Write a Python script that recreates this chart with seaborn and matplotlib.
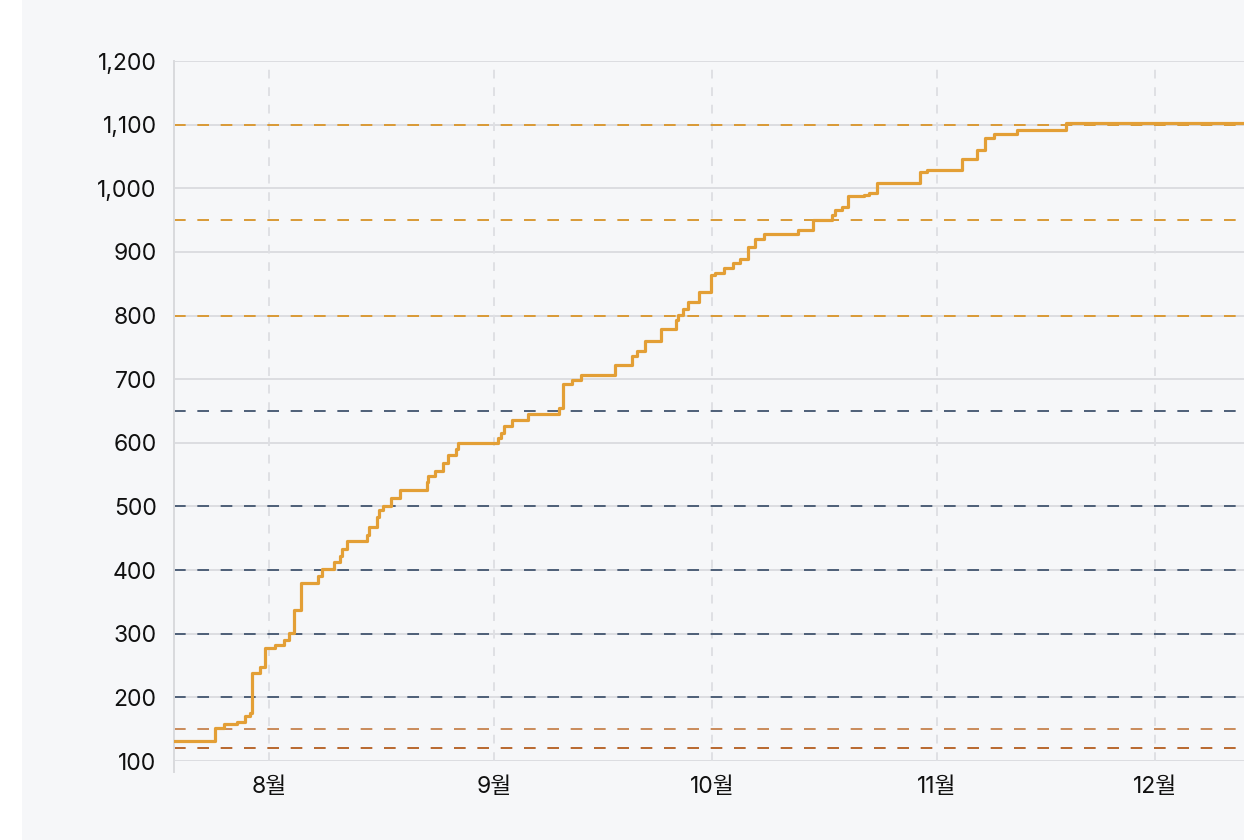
import matplotlib
matplotlib.use("Agg")
import matplotlib.pyplot as plt
import matplotlib.dates as mdates
from matplotlib.patches import Rectangle
from matplotlib.ticker import FuncFormatter
import seaborn as sns
import pandas as pd

# 누적 값 (계단형), 값을 읽어온 시점과 수치
step_dates = [
    "2024-07-18 22:00", "2024-07-24 14:00", "2024-07-25 19:00", "2024-07-27 14:00",
    "2024-07-28 17:00", "2024-07-29 10:00", "2024-07-29 14:00", "2024-07-30 19:00",
    "2024-07-31 11:00", "2024-08-01 21:00", "2024-08-03 02:00", "2024-08-03 18:00",
    "2024-08-04 10:00", "2024-08-05 10:00", "2024-08-07 19:00", "2024-08-08 07:00",
    "2024-08-09 22:00", "2024-08-10 17:00", "2024-08-11 00:00", "2024-08-11 17:00",
    "2024-08-14 12:00", "2024-08-14 19:00", "2024-08-15 22:00", "2024-08-16 05:00",
    "2024-08-16 17:00", "2024-08-17 19:00", "2024-08-19 00:00", "2024-08-22 17:00",
    "2024-08-22 22:00", "2024-08-23 22:00", "2024-08-24 22:00", "2024-08-25 17:00",
    "2024-08-26 19:00", "2024-08-27 00:00", "2024-09-01 14:00", "2024-09-02 00:00",
    "2024-09-02 10:00", "2024-09-03 12:00", "2024-09-05 17:00", "2024-09-10 00:00",
    "2024-09-10 12:00", "2024-09-11 17:00", "2024-09-12 22:00", "2024-09-17 17:00",
    "2024-09-20 00:00", "2024-09-20 17:00", "2024-09-21 19:00", "2024-09-23 22:00",
    "2024-09-26 00:00", "2024-09-26 07:00", "2024-09-27 00:00", "2024-09-27 17:00",
    "2024-09-29 05:00", "2024-09-30 22:00", "2024-10-01 10:00", "2024-10-02 17:00",
    "2024-10-03 22:00", "2024-10-04 22:00", "2024-10-05 22:00", "2024-10-06 22:00",
    "2024-10-08 05:00", "2024-10-12 22:00", "2024-10-14 22:00", "2024-10-17 14:00",
    "2024-10-18 00:00", "2024-10-18 22:00", "2024-10-19 19:00", "2024-10-21 22:00",
    "2024-10-22 14:00", "2024-10-23 17:00", "2024-10-29 17:00", "2024-10-30 14:00",
    "2024-11-04 12:00", "2024-11-06 12:00", "2024-11-07 14:00", "2024-11-08 19:00",
    "2024-11-12 00:00", "2024-11-18 19:00", "2024-12-14 00:00",
]
step_values = [
    131, 152, 158, 162,
    171, 176, 238, 248,
    277, 283, 290, 301,
    337, 380, 390, 401,
    412, 422, 433, 446,
    455, 468, 484, 495,
    500, 513, 526, 539,
    548, 556, 568, 581,
    591, 599, 607, 616,
    627, 636, 645, 654,
    693, 699, 707, 722,
    737, 745, 760, 779,
    793, 801, 811, 822,
    837, 864, 867, 874,
    883, 889, 908, 920,
    928, 934, 950, 958,
    966, 971, 988, 990,
    993, 1009, 1025, 1029,
    1046, 1060, 1079, 1086,
    1092, 1103, 1103,
]

# 기준선
ref_levels = [1100, 950, 800, 650, 500, 400, 300, 200, 150, 120]
ref_colors = ["#d99a36", "#d99a36", "#d99a36", "#4e5f78", "#4e5f78",
              "#4e5f78", "#4e5f78", "#4e5f78", "#c98b5a", "#b8682e"]

y_ticks = [100, 200, 300, 400, 500, 600, 700, 800, 900, 1000, 1100, 1200]
x_range = ["2024-07-18 21:40", "2024-12-13 07:00"]

df = pd.DataFrame({"date": pd.to_datetime(step_dates), "value": step_values})

sns.set_style("white")
plt.rcParams["font.family"] = ["Inter", "Noto Sans CJK KR", "DejaVu Sans"]

bg = "#f6f7f9"
fig = plt.figure(figsize=(12.44, 8.4), dpi=100, facecolor="white")
fig.patches.append(Rectangle((22 / 1244, 0), 1, 1, transform=fig.transFigure,
                             facecolor=bg, edgecolor="none", zorder=-10))
ax = fig.add_axes([174 / 1244, 1 - 761 / 840, 1 - 174 / 1244, (761 - 61) / 840])
ax.set_facecolor(bg)

# 그리드
for y in y_ticks:
    ax.axhline(y, color="#dcdde1", lw=1.4, zorder=1)
for m in pd.date_range("2024-08-01", "2024-12-01", freq="MS"):
    ax.axvline(m, color="#dfe0e4", lw=1.4, ls=(0, (4.5, 4.5)), zorder=1)

for lvl, c in zip(ref_levels, ref_colors):
    ax.axhline(lvl, color=c, lw=1.4, ls=(0, (6, 6)), zorder=2)

sns.lineplot(data=df, x="date", y="value", drawstyle="steps-post",
             color="#e39f36", lw=2.3, ax=ax, zorder=3)

ax.set_xlim(pd.to_datetime(x_range[0]), pd.to_datetime(x_range[1]))
ax.set_ylim(100, 1200)
ax.set_yticks(y_ticks)
ax.yaxis.set_major_formatter(FuncFormatter(lambda v, p: f"{int(v):,}"))
ax.xaxis.set_major_locator(mdates.MonthLocator())
ax.xaxis.set_major_formatter(FuncFormatter(lambda v, p: f"{mdates.num2date(v).month}월"))

ax.set_xlabel("")
ax.set_ylabel("")
for s in ["top", "right", "bottom"]:
    ax.spines[s].set_visible(False)
ax.spines["left"].set_color("#d9dadd")
ax.spines["left"].set_linewidth(1.4)
ax.spines["left"].set_bounds(100 - 11 * 1.5714, 1200)

ax.tick_params(axis="both", direction="out", length=7.5, width=1.4,
               color="#111111", labelsize=16.5, labelcolor="#111111")
ax.tick_params(axis="y", pad=5)
ax.tick_params(axis="x", pad=3)

plt.savefig("out.png", dpi=100, facecolor=fig.get_facecolor())
